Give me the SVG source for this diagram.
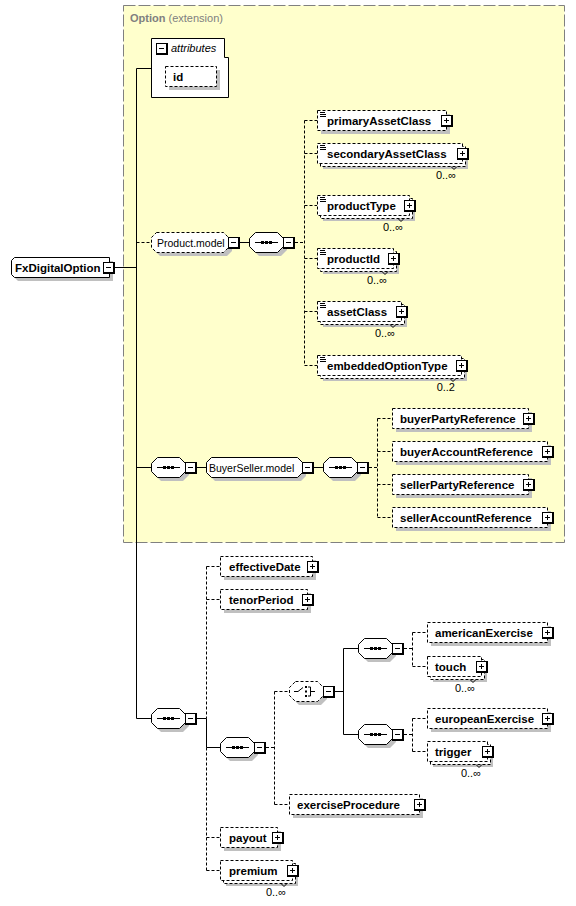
<svg xmlns="http://www.w3.org/2000/svg" width="576" height="906" viewBox="0 0 576 906">
<style>
.sh{fill:#c0c0c0}
.el{fill:#fff;stroke:#000;stroke-dasharray:3,2}
.els{fill:#fff;stroke:#000}
.ln{stroke:#000;fill:none}
.dl{stroke:#000;fill:none;stroke-dasharray:3,2}
.ic{stroke:#000;fill:none}
.b{font-family:"Liberation Sans",Arial,sans-serif;font-weight:bold;font-size:11.5px;fill:#000}
.n{font-family:"Liberation Sans",Arial,sans-serif;font-size:10.5px;fill:#000}
.m{font-family:"Liberation Sans",Arial,sans-serif;font-size:11px;fill:#000;text-anchor:end}
</style>
<defs>
<g id="minus"><rect width="12" height="12" fill="#000"/><rect x="1" y="1" width="9" height="9" fill="#fff"/><path d="M3 5.5H8" stroke="#000"/></g>
<g id="plus"><rect width="12" height="12" fill="#000"/><rect x="1" y="1" width="9" height="9" fill="#fff"/><path d="M3 5.5H8M5.5 3V8" stroke="#000"/></g>
<g id="seq">
<path class="sh" d="M10 4H32L38 10V18L32 24H10L4 18V10Z"/>
<path class="els" d="M6.5 .5H28.5L34.5 6.5V14.5L28.5 20.5H6.5L.5 14.5V6.5Z"/>
<path d="M6 10.5H29" stroke="#000"/>
<rect x="12" y="9" width="3" height="3"/><rect x="16" y="9" width="3" height="3"/><rect x="20" y="9" width="3" height="3"/>
</g>
<g id="choice">
<path class="sh" d="M10 4H32L38 10V18L32 24H10L4 18V10Z"/>
<path class="el" d="M6.5 .5H28.5L34.5 6.5V14.5L28.5 20.5H6.5L.5 14.5V6.5Z"/>
<path d="M5 10.5H9L14 6.5M19 6H21.5V15H19M21.5 10.5H26" stroke="#000" fill="none"/>
<rect x="16" y="5" width="2" height="2"/><rect x="16" y="9.5" width="2" height="2"/><rect x="16" y="14" width="2" height="2"/>
</g>
</defs>

<g id="option-extension">
<rect x="123.5" y="5.5" width="441" height="537" fill="#ffffcc" stroke="#808080" stroke-dasharray="12,3"/>
<text x="130" y="22" font-family="Liberation Sans,Arial,sans-serif" font-size="11px" fill="#808080"><tspan font-weight="bold">Option</tspan> (extension)</text>
</g>

<g id="connectors">
<path class="ln" d="M115 267.5H136.5M136.5 68.5V718.5M136.5 68.5H151M136.5 467.5H151M197 467.5H206M314 467.5H323M240 242.5H249M136.5 718.5H151M197 718.5H206.5V747.5H220M335 691.5H343.5M343.5 648.5V734.5M343.5 648.5H358M343.5 734.5H358"/>
<path class="dl" d="M136.5 242.5H151M295 242.5H304.5M304.5 120.5V365.5M304.5 120.5H317M304.5 153.5H317M304.5 205.5H317M304.5 258.5H317M304.5 311.5H317M304.5 365.5H317"/>
<path class="dl" d="M369 467.5H377.5M377.5 418.5V517.5M377.5 418.5H392M377.5 451.5H392M377.5 484.5H392M377.5 517.5H392"/>
<path class="dl" d="M206.5 566.5V718.5M206.5 747.5V870.5M206.5 566.5H220M206.5 599.5H220M206.5 837.5H220M206.5 870.5H220"/>
<path class="dl" d="M266 747.5H274.5M274.5 691.5V804.5M274.5 691.5H289M274.5 804.5H289"/>
<path class="dl" d="M404 648.5H412.5M412.5 632.5V666.5M412.5 632.5H427M412.5 666.5H427M404 734.5H412.5M412.5 718.5V751.5M412.5 718.5H427M412.5 751.5H427"/>
</g>

<g id="n-FxDigitalOption">
<path class="sh" d="M18 261H113V281H18L15 278V264Z"/>
<path class="els" d="M14.5 257.5H109.5V277.5H14.5L11.5 274.5V260.5Z"/>
<text class="b" x="15" y="272">FxDigitalOption</text>
<use href="#minus" x="103" y="262"/>
</g>

<g id="n-attributes">
<path class="els" d="M151.5 38.5H224.5V57.5H228.5V97.5H151.5Z"/>
<use href="#minus" x="156" y="43"/>
<text x="171" y="52" font-family="Liberation Sans,Arial,sans-serif" font-size="11px" font-style="italic">attributes</text>
</g>
<g id="n-id">
<rect class="sh" x="169" y="70" width="51" height="20"/>
<rect class="el" x="165.5" y="66.5" width="51" height="20"/>
<text class="b" x="173" y="81">id</text>
</g>

<g id="n-Product.model">
<path class="sh" d="M160 236H227L232 241V251L227 256H160L155 251V241Z"/>
<path class="el" d="M156.5 232.5H223.5L228.5 237.5V247.5L223.5 252.5H156.5L151.5 247.5V237.5Z"/>
<text class="n" x="157" y="247">Product.model</text>
<use href="#minus" x="228" y="237"/>
</g>
<g id="n-seqP"><use href="#seq" x="249" y="232"/><use href="#minus" x="283" y="237"/></g>

<g id="n-primaryAssetClass">
<rect class="sh" x="321" y="114" width="129" height="20"/>
<rect class="el" x="317.5" y="110.5" width="129" height="20"/>
<path class="ic" d="M320 112.5h5M320 114.5h6M320 116.5h6"/>
<text class="b" x="327" y="125">primaryAssetClass</text>
<use href="#plus" x="441" y="115"/>
</g>
<g id="n-secondaryAssetClass">
<rect class="sh" x="323" y="149" width="145" height="20"/>
<rect class="el" x="320.5" y="146.5" width="145" height="20"/>
<rect class="el" x="317.5" y="143.5" width="145" height="20"/>
<path class="ic" d="M320 145.5h5M320 147.5h6M320 149.5h6"/>
<path class="ic" d="M451 166.5l3 3l3-3"/>
<text class="b" x="327" y="158">secondaryAssetClass</text>
<use href="#plus" x="457" y="148"/>
<text class="m" x="456" y="179">0..∞</text>
</g>
<g id="n-productType">
<rect class="sh" x="323" y="201" width="92" height="20"/>
<rect class="el" x="320.5" y="198.5" width="92" height="20"/>
<rect class="el" x="317.5" y="195.5" width="92" height="20"/>
<path class="ic" d="M320 197.5h5M320 199.5h6M320 201.5h6"/>
<path class="ic" d="M398 218.5l3 3l3-3"/>
<text class="b" x="327" y="210">productType</text>
<use href="#plus" x="404" y="200"/>
<text class="m" x="403" y="231">0..∞</text>
</g>
<g id="n-productId">
<rect class="sh" x="323" y="254" width="76" height="20"/>
<rect class="el" x="320.5" y="251.5" width="76" height="20"/>
<rect class="el" x="317.5" y="248.5" width="76" height="20"/>
<path class="ic" d="M320 250.5h5M320 252.5h6M320 254.5h6"/>
<path class="ic" d="M382 271.5l3 3l3-3"/>
<text class="b" x="327" y="263">productId</text>
<use href="#plus" x="388" y="253"/>
<text class="m" x="387" y="284">0..∞</text>
</g>
<g id="n-assetClass">
<rect class="sh" x="323" y="307" width="84" height="20"/>
<rect class="el" x="320.5" y="304.5" width="84" height="20"/>
<rect class="el" x="317.5" y="301.5" width="84" height="20"/>
<path class="ic" d="M320 303.5h5M320 305.5h6M320 307.5h6"/>
<path class="ic" d="M390 324.5l3 3l3-3"/>
<text class="b" x="327" y="316">assetClass</text>
<use href="#plus" x="396" y="306"/>
<text class="m" x="395" y="337">0..∞</text>
</g>
<g id="n-embeddedOptionType">
<rect class="sh" x="323" y="361" width="144" height="20"/>
<rect class="el" x="320.5" y="358.5" width="144" height="20"/>
<rect class="el" x="317.5" y="355.5" width="144" height="20"/>
<path class="ic" d="M320 357.5h5M320 359.5h6M320 361.5h6"/>
<path class="ic" d="M450 378.5l3 3l3-3"/>
<text class="b" x="327" y="370">embeddedOptionType</text>
<use href="#plus" x="456" y="360"/>
<text class="m" x="455" y="391">0..2</text>
</g>

<g id="n-seqB1"><use href="#seq" x="151" y="457"/><use href="#minus" x="185" y="462"/></g>
<g id="n-BuyerSeller.model">
<path class="sh" d="M215 461H301L306 466V476L301 481H215L210 476V466Z"/>
<path class="els" d="M211.5 457.5H297.5L302.5 462.5V472.5L297.5 477.5H211.5L206.5 472.5V462.5Z"/>
<text class="n" x="209" y="472">BuyerSeller.model</text>
<use href="#minus" x="302" y="462"/>
</g>
<g id="n-seqB2"><use href="#seq" x="323" y="457"/><use href="#minus" x="357" y="462"/></g>

<g id="n-buyerPartyReference">
<rect class="sh" x="396" y="412" width="136" height="20"/>
<rect class="el" x="392.5" y="408.5" width="136" height="20"/>
<text class="b" x="400" y="423">buyerPartyReference</text>
<use href="#plus" x="523" y="413"/>
</g>
<g id="n-buyerAccountReference">
<rect class="sh" x="396" y="445" width="155" height="20"/>
<rect class="el" x="392.5" y="441.5" width="155" height="20"/>
<text class="b" x="400" y="456">buyerAccountReference</text>
<use href="#plus" x="542" y="446"/>
</g>
<g id="n-sellerPartyReference">
<rect class="sh" x="396" y="478" width="136" height="20"/>
<rect class="el" x="392.5" y="474.5" width="136" height="20"/>
<text class="b" x="400" y="489">sellerPartyReference</text>
<use href="#plus" x="523" y="479"/>
</g>
<g id="n-sellerAccountReference">
<rect class="sh" x="396" y="511" width="155" height="20"/>
<rect class="el" x="392.5" y="507.5" width="155" height="20"/>
<text class="b" x="400" y="522">sellerAccountReference</text>
<use href="#plus" x="542" y="512"/>
</g>

<g id="n-seq1"><use href="#seq" x="151" y="708"/><use href="#minus" x="185" y="713"/></g>
<g id="n-seq2"><use href="#seq" x="220" y="737"/><use href="#minus" x="254" y="742"/></g>
<g id="n-choice"><use href="#choice" x="289" y="681"/><use href="#minus" x="323" y="686"/></g>
<g id="n-seq3"><use href="#seq" x="358" y="638"/><use href="#minus" x="392" y="643"/></g>
<g id="n-seq4"><use href="#seq" x="358" y="724"/><use href="#minus" x="392" y="729"/></g>

<g id="n-effectiveDate">
<rect class="sh" x="224" y="560" width="92" height="20"/>
<rect class="el" x="220.5" y="556.5" width="92" height="20"/>
<text class="b" x="229" y="571">effectiveDate</text>
<use href="#plus" x="307" y="561"/>
</g>
<g id="n-tenorPeriod">
<rect class="sh" x="224" y="593" width="87" height="20"/>
<rect class="el" x="220.5" y="589.5" width="87" height="20"/>
<text class="b" x="229" y="604">tenorPeriod</text>
<use href="#plus" x="302" y="594"/>
</g>
<g id="n-americanExercise">
<rect class="sh" x="431" y="626" width="120" height="20"/>
<rect class="el" x="427.5" y="622.5" width="120" height="20"/>
<text class="b" x="435" y="637">americanExercise</text>
<use href="#plus" x="542" y="627"/>
</g>
<g id="n-touch">
<rect class="sh" x="433" y="662" width="54" height="20"/>
<rect class="el" x="430.5" y="659.5" width="54" height="20"/>
<rect class="el" x="427.5" y="656.5" width="54" height="20"/>
<path class="ic" d="M470 679.5l3 3l3-3"/>
<text class="b" x="435" y="671">touch</text>
<use href="#plus" x="476" y="661"/>
<text class="m" x="475" y="692">0..∞</text>
</g>
<g id="n-europeanExercise">
<rect class="sh" x="431" y="712" width="120" height="20"/>
<rect class="el" x="427.5" y="708.5" width="120" height="20"/>
<text class="b" x="435" y="723">europeanExercise</text>
<use href="#plus" x="542" y="713"/>
</g>
<g id="n-trigger">
<rect class="sh" x="433" y="747" width="60" height="20"/>
<rect class="el" x="430.5" y="744.5" width="60" height="20"/>
<rect class="el" x="427.5" y="741.5" width="60" height="20"/>
<path class="ic" d="M476 764.5l3 3l3-3"/>
<text class="b" x="435" y="756">trigger</text>
<use href="#plus" x="482" y="746"/>
<text class="m" x="481" y="777">0..∞</text>
</g>
<g id="n-exerciseProcedure">
<rect class="sh" x="293" y="798" width="130" height="20"/>
<rect class="el" x="289.5" y="794.5" width="130" height="20"/>
<text class="b" x="297" y="809">exerciseProcedure</text>
<use href="#plus" x="414" y="799"/>
</g>
<g id="n-payout">
<rect class="sh" x="224" y="831" width="57" height="20"/>
<rect class="el" x="220.5" y="827.5" width="57" height="20"/>
<text class="b" x="229" y="842">payout</text>
<use href="#plus" x="272" y="832"/>
</g>
<g id="n-premium">
<rect class="sh" x="226" y="866" width="72" height="20"/>
<rect class="el" x="223.5" y="863.5" width="72" height="20"/>
<rect class="el" x="220.5" y="860.5" width="72" height="20"/>
<path class="ic" d="M281 883.5l3 3l3-3"/>
<text class="b" x="229" y="875">premium</text>
<use href="#plus" x="287" y="865"/>
<text class="m" x="286" y="896">0..∞</text>
</g>
</svg>
